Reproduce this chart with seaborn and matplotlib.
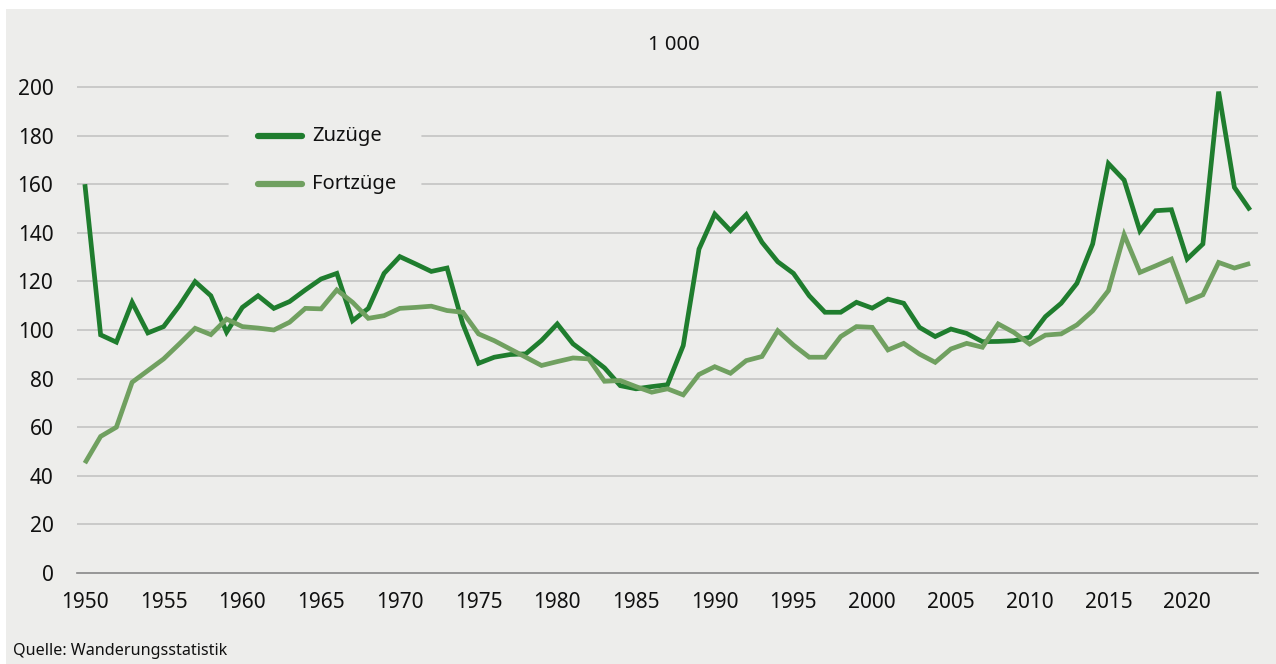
import numpy as np
import pandas as pd
import matplotlib
matplotlib.use("Agg")
import matplotlib.pyplot as plt
import seaborn as sns
from matplotlib.patches import Rectangle

years = list(range(1950, 2025))

zuzuege = [160, 98, 95, 111.4, 98.8, 101.4, 110, 119.9, 114.1, 99.1,
           109.3, 114.1, 108.9, 111.7, 116.5, 121, 123.3, 103.8, 108.9, 123.3,
           130.2, 127.2, 124.1, 125.5, 102.5, 86.3, 88.8, 89.9, 90.2, 95.7,
           102.5, 94.3, 89.5, 84.4, 77.1, 75.8, 76.7, 77.5, 93.6, 133.3,
           147.7, 140.9, 147.5, 136.1, 128.1, 123.3, 114.1, 107.3, 107.3, 111.4,
           109, 112.7, 111, 101.1, 97.3, 100.4, 98.6, 95.2, 95.3, 95.6,
           97, 105.5, 111, 119.2, 135.4, 168.5, 161.7, 140.8, 149.1, 149.5,
           129.2, 135.4, 198.1, 158.7, 149.3]

fortzuege = [45.2, 56.2, 60, 78.5, 83.3, 88.1, 94.3, 100.7, 98.1, 104.5,
             101.4, 100.8, 100, 103.2, 108.9, 108.7, 116.5, 111.4, 104.8, 105.9,
             108.9, 109.3, 109.8, 108, 107.3, 98.4, 95.6, 92.2, 88.8, 85.4,
             87, 88.5, 88.1, 78.9, 79.2, 76.7, 74.4, 75.8, 73.3, 81.7,
             84.9, 82.2, 87.4, 89.1, 99.7, 93.8, 88.8, 88.8, 97.3, 101.4,
             101.1, 91.8, 94.5, 90.1, 86.7, 92.2, 94.5, 92.9, 102.5, 99,
             94.2, 97.9, 98.4, 102.1, 107.9, 116.2, 139.2, 123.7, 126.4, 129.2,
             111.8, 114.5, 127.8, 125.5, 127.4]

series_names = ["Zuzüge", "Fortzüge"]
colors = ["#1f7d2e", "#70a060"]
ytick_values = list(range(0, 201, 20))
xtick_years = list(range(1950, 2021, 5))

df = pd.DataFrame({"Jahr": years, "Zuzüge": zuzuege, "Fortzüge": fortzuege})
df_long = df.melt(id_vars="Jahr", var_name="Art", value_name="Wert")

sns.set_style("white")
plt.rcParams["font.family"] = ["Noto Sans", "DejaVu Sans"]

W, H = 1276, 664
fig = plt.figure(figsize=(W / 100, H / 100), dpi=100)
fig.patch.set_facecolor("white")
bg = Rectangle((6 / W, 0), 1 - 6 / W, 1 - 9 / H, transform=fig.transFigure,
               facecolor="#ededeb", edgecolor="none", zorder=-10)
fig.add_artist(bg)

ax = fig.add_axes([77 / W, 91 / H, 1181 / W, 534.6 / H])
ax.set_facecolor("none")
ax.set_zorder(1)

sns.lineplot(data=df_long, x="Jahr", y="Wert", hue="Art", hue_order=series_names,
             palette=colors, linewidth=3.4, ax=ax, legend=False, zorder=3)
for line in ax.get_lines():
    line.set_solid_joinstyle("miter")
    line.set_solid_capstyle("butt")

ax.set_xlim(1949.5, 2024.5)
ax.set_ylim(0, 220)
ax.set_yticks(ytick_values)
ax.set_yticklabels([str(v) for v in ytick_values], fontsize=15, color="#111111")
ax.set_xticks(xtick_years)
ax.set_xticklabels([str(v) for v in xtick_years], fontsize=15, color="#111111")
ax.set_xticks(np.arange(1949.5, 2025, 1), minor=True)
ax.tick_params(axis="x", which="major", length=0, pad=14)
ax.tick_params(axis="x", which="minor", length=7, width=1, color="#888888", direction="out")
ax.tick_params(axis="y", length=0, pad=17)
ax.set_xlabel("")
ax.set_ylabel("")

# gridlines, broken behind the legend
for v in ytick_values[1:]:
    if v in (160, 180):
        ax.plot([1949.5, 1959.1], [v, v], color="#c3c3c3", lw=1.2, zorder=1)
        ax.plot([1971.4, 2024.5], [v, v], color="#c3c3c3", lw=1.2, zorder=1)
    else:
        ax.axhline(v, color="#c3c3c3", lw=1.2, zorder=1)

for s in ["top", "right", "left"]:
    ax.spines[s].set_visible(False)
ax.spines["bottom"].set_color("#888888")
ax.spines["bottom"].set_linewidth(1.2)

# legend drawn by hand
for name, col, yv in zip(series_names, colors, [180, 160]):
    ax.plot([1961.0, 1963.8], [yv, yv], color=col, lw=4.5, solid_capstyle="round",
            zorder=4, clip_on=False)
    ax.text(1964.45, yv, name, fontsize=14.5, va="center", ha="left", color="#111111")

fig.text(674 / W, 1 - 45 / H, "1 000", fontsize=14.5, ha="center", va="center", color="#111111")
fig.text(13 / W, 1 - 651 / H, "Quelle: Wanderungsstatistik", fontsize=11.6, ha="left",
         va="center", color="#111111")

fig.savefig("out.png", dpi=100, facecolor=fig.get_facecolor())
